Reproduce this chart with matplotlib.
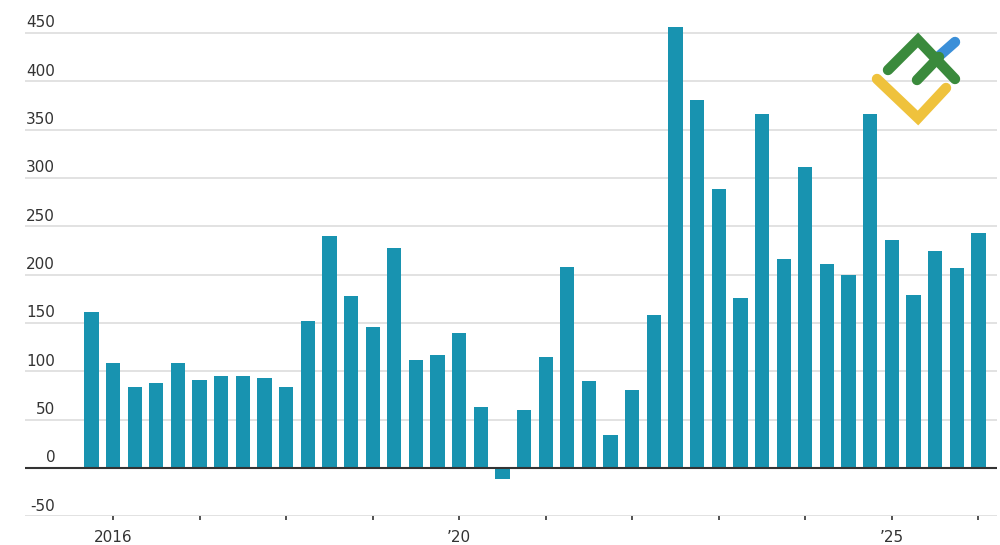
import numpy as np
import matplotlib.pyplot as plt

# Quarterly values
values = [162, 109, 84, 88, 109, 91, 95, 95, 93, 84,
          152, 240, 178, 146, 228, 112, 117, 140, 63, -11,
          60, 115, 208, 90, 34, 81, 158, 456, 381, 289,
          176, 366, 216, 312, 211, 200, 366, 236, 179, 225,
          207, 243]

y_ticks = [-50, 0, 50, 100, 150, 200, 250, 300, 350, 400, 450]
x_tick_pos = [1, 5, 9, 13, 17, 21, 25, 29, 33, 37, 41]
x_tick_labels = ["2016", "", "", "", "\u201920", "", "", "", "", "\u201925", ""]

BAR_COLOR = "#1893b0"
TEXT_COLOR = "#333333"
GRID_COLOR = "#dddddd"

fig = plt.figure(figsize=(10, 5.45), dpi=100)
ax = fig.add_axes([0.025, 0.0523, 0.972, 0.9224])

x = np.arange(len(values))
ax.bar(x, values, width=0.66, color=BAR_COLOR, zorder=2)

ax.set_xlim(-3.07, 41.86)
ax.set_ylim(-50, 470)

# gridlines + labels sitting above the lines, right-aligned
for v in y_ticks:
    if v == 0:
        ax.axhline(0, color=TEXT_COLOR, lw=1.5, zorder=3)
    else:
        ax.axhline(v, color=GRID_COLOR, lw=1.2, zorder=1)
    ax.text(0.031, v + 3, str(v), transform=ax.get_yaxis_transform(),
            ha="right", va="bottom", fontsize=11, color=TEXT_COLOR)

for s in ["top", "right", "left", "bottom"]:
    ax.spines[s].set_visible(False)
ax.set_yticks([])

ax.set_xticks(x_tick_pos)
ax.set_xticklabels(x_tick_labels, fontsize=11, color=TEXT_COLOR)
ax.tick_params(axis="x", length=3, width=1.2, color=TEXT_COLOR, pad=7)

# logo in the top right corner (pixel coordinates)
lay = fig.add_axes([0, 0, 1, 1], zorder=5)
lay.set_xlim(0, 1000)
lay.set_ylim(545, 0)
lay.axis("off")
lw = 7.5
lay.plot([938, 955], [57, 42], color="#3b8fd8", lw=lw, solid_capstyle="round")
lay.plot([877, 918, 946], [79, 118, 88], color="#efc23c", lw=lw,
         solid_capstyle="round", solid_joinstyle="miter")
lay.plot([888, 918, 955], [70, 40, 79], color="#3a8a3c", lw=lw,
         solid_capstyle="round", solid_joinstyle="miter")
lay.plot([917, 939], [80, 57], color="#3a8a3c", lw=lw, solid_capstyle="round")

fig.savefig("out.png", dpi=100)
